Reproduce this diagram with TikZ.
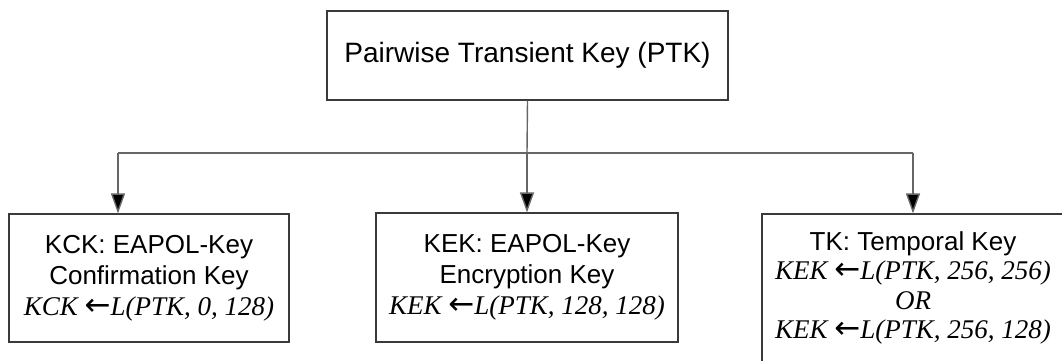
\documentclass[tikz,border=0pt]{standalone}
\usepackage{fontspec}
\setmainfont{Liberation Serif}
\setsansfont{Liberation Sans}
\newfontfamily\arrowfont{DejaVu Sans}
\usetikzlibrary{arrows.meta}
\definecolor{boxline}{HTML}{3A3A3A}
\definecolor{linkline}{HTML}{666666}
\tikzset{
  keybox/.style={draw=boxline, line width=0.6pt, inner sep=0pt, align=center,
    font=\sffamily\fontsize{13}{15.5}\selectfont},
  link/.style={draw=linkline, line width=0.7pt},
  arr/.style={link, -{Triangle[length=10pt,width=7pt,fill=black]}}
}
\newcommand{\kdf}[2]{\rmfamily\itshape\fontsize{13.5}{15.5}\selectfont #1 {\arrowfont\fontsize{15.5}{15.5}\selectfont ←}#2}
\begin{document}
\begin{tikzpicture}[x=0.5pt,y=-0.5pt]
\useasboundingbox (0,0) rectangle (1062,360);
\clip (0,0) rectangle (1062,360);
\node[keybox, minimum width=200.5pt, minimum height=44.5pt, font=\sffamily\fontsize{14}{16}\selectfont] (ptk) at (527.5,55.5) {Pairwise Transient Key (PTK)};
\node[keybox, minimum width=140pt, minimum height=64pt] (kck) at (149,278) {KCK: EAPOL-Key\\Confirmation Key\\{\kdf{KCK}{L(PTK, 0, 128)}}};
\node[keybox, minimum width=151pt, minimum height=64.5pt] (kek) at (527,277.5) {KEK: EAPOL-Key\\Encryption Key\\{\kdf{KEK}{L(PTK, 128, 128)}}};
\node[keybox, minimum width=151pt, minimum height=74pt, font=\sffamily\fontsize{13}{14.75}\selectfont] (tk) at (913,288) {TK: Temporal Key\\{\kdf{KEK}{L(PTK, 256, 256)}}\\{\rmfamily\itshape\fontsize{13.5}{14.75}\selectfont OR}\\{\kdf{KEK}{L(PTK, 256, 128)}}};
\coordinate (bar) at (527,153);
\coordinate (barl) at (118,153);
\coordinate (barr) at (913,153);
\draw[link] (ptk.south) -- (bar);
\draw[link] (barl) -- (barr);
\draw[arr] (barl) -- (barl |- kck.north);
\draw[arr] (bar) -- (kek.north);
\draw[arr] (barr) -- (tk.north);
\end{tikzpicture}
\end{document}
